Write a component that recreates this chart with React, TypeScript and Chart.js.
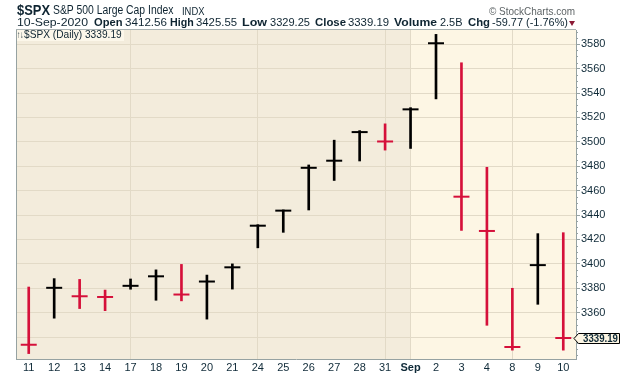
import React, { useEffect, useRef } from 'react';
import { Chart, registerables } from 'chart.js';

Chart.register(...registerables);

// ---- data ----
const labels = ['11', '12', '13', '14', '17', '18', '19', '20', '21', '24', '25', '26', '27', '28', '31', 'Sep', '2', '3', '4', '8', '9', '10'];
const highs = [3381.01, 3387.89, 3387.24, 3378.51, 3387.59, 3395.06, 3399.54, 3390.8, 3399.96, 3432.09, 3444.21, 3481.07, 3501.38, 3509.23, 3514.77, 3528.03, 3588.11, 3564.85, 3479.15, 3379.97, 3424.77, 3425.55];
const lows = [3326.44, 3355.46, 3363.35, 3361.64, 3379.22, 3370.15, 3369.66, 3354.69, 3379.31, 3413.13, 3425.84, 3444.15, 3468.35, 3484.32, 3493.25, 3494.6, 3535.23, 3427.41, 3349.63, 3329.27, 3366.84, 3329.25];
const closes = [3333.69, 3380.35, 3373.43, 3372.85, 3381.99, 3389.78, 3374.85, 3385.51, 3397.16, 3431.28, 3443.62, 3478.73, 3484.55, 3508.01, 3500.31, 3526.65, 3580.84, 3455.06, 3426.96, 3331.84, 3398.96, 3339.19];
const prevClose = 3360.47;
const gridDays = ['17', '24', '31', 'Sep', '8'];
const monthStart = 'Sep';
const yMin = 3322;
const yMax = 3591.7;
const yStep = 20;
const lastClose = '3339.19';

const headerDate = '10-Sep-2020';
const headerStats = [
  ['Open', '3412.56'],
  ['High', '3425.55'],
  ['Low', '3329.25'],
  ['Close', '3339.19'],
  ['Volume', '2.5B'],
  ['Chg', '-59.77 (-1.76%)'],
];

// ---- styles ----
const FAMILY = '"Liberation Sans", Arial, Helvetica, sans-serif';
const UP = '#000000';
const DOWN = '#D5103A';
const GRID = '#E2DAC7';
const AXIS = '#96A2A2';
const TICK = '#0F2A38';
const TEXT = '#0E2431';

const colors = closes.map((c, i) => (c < (i === 0 ? prevClose : closes[i - 1]) ? DOWN : UP));

let mctx: CanvasRenderingContext2D | null = null;
function measure(text: string, font: string) {
  if (!mctx) mctx = document.createElement('canvas').getContext('2d');
  mctx!.font = font;
  return mctx!.measureText(text).width;
}

function Txt(props: { text: string; x: number; base: number; w?: number; size: number; bold?: boolean; color?: string; bg?: string }) {
  const { text, x, base, w, size, bold, color } = props;
  const font = `${bold ? 'bold ' : ''}${size}px ${FAMILY}`;
  const mw = measure(text, font);
  const sx = w ? w / mw : 1;
  return (
    <div
      style={{
        position: 'absolute',
        left: x,
        top: base - 0.8465 * size,
        fontFamily: FAMILY,
        fontSize: size,
        fontWeight: bold ? 'bold' : 'normal',
        lineHeight: `${size}px`,
        whiteSpace: 'nowrap',
        color: color || TEXT,
        transform: `scaleX(${sx})`,
        transformOrigin: 'left top',
      }}
    >
      {text}
    </div>
  );
}

const statPos = [
  [94, 122.5, 125, 167],
  [170, 193.7, 196, 237],
  [242, 267, 270, 310],
  [315, 346, 348, 389],
  [394, 437, 439.5, 462],
  [468, 490, 492, 568],
];

export default function App() {
  const ref = useRef<HTMLCanvasElement>(null);

  useEffect(() => {
    document.body.style.margin = '0';
    const canvas = ref.current!;
    const splitIdx = labels.indexOf(monthStart);
    const gridIdx = gridDays.map((d) => labels.indexOf(d));

    const plugin = {
      id: 'stockDecor',
      beforeDraw(chart: any) {
        const { ctx, chartArea: a, scales } = chart;
        const split = scales.x.getPixelForValue(splitIdx);
        ctx.save();
        ctx.fillStyle = '#F3ECDC';
        ctx.fillRect(a.left, a.top, split - a.left, a.bottom - a.top);
        ctx.fillStyle = '#FDF6E4';
        ctx.fillRect(split, a.top, a.right - split, a.bottom - a.top);
        ctx.restore();
      },
      afterDraw(chart: any) {
        const { ctx, chartArea: a, scales } = chart;
        ctx.save();
        // left & top border
        ctx.strokeStyle = AXIS;
        ctx.lineWidth = 1;
        ctx.beginPath();
        ctx.moveTo(a.left + 0.5, a.top);
        ctx.lineTo(a.left + 0.5, a.bottom);
        ctx.stroke();
        ctx.strokeStyle = '#A9B2B2';
        ctx.beginPath();
        ctx.moveTo(a.left, a.top - 0.5);
        ctx.lineTo(a.right, a.top - 0.5);
        ctx.stroke();
        // minor ticks on y axis
        ctx.strokeStyle = AXIS;
        for (let v = Math.ceil(yMin / 5) * 5; v <= yMax; v += 5) {
          if (v % yStep === 0) continue;
          const y = Math.round(scales.y.getPixelForValue(v)) + 0.5;
          ctx.beginPath();
          ctx.moveTo(a.right, y);
          ctx.lineTo(a.right + 2, y);
          ctx.stroke();
        }
        // last price box
        const py = Math.round(scales.y.getPixelForValue(closes[closes.length - 1])) + 0.5;
        const bx = a.right + 2.5;
        ctx.beginPath();
        ctx.moveTo(a.right - 2, py);
        ctx.lineTo(bx, py - 5);
        ctx.lineTo(619.5, py - 5);
        ctx.lineTo(619.5, py + 5);
        ctx.lineTo(bx, py + 5);
        ctx.closePath();
        ctx.fillStyle = '#FDF6E4';
        ctx.fill();
        ctx.strokeStyle = '#000';
        ctx.stroke();
        ctx.font = `bold 11px ${FAMILY}`;
        const tw = ctx.measureText(lastClose).width;
        ctx.translate(583, py);
        ctx.scale(35 / tw, 1);
        ctx.fillStyle = TICK;
        ctx.textBaseline = 'middle';
        ctx.textAlign = 'left';
        ctx.fillText(lastClose, 0, 0.5);
        ctx.restore();
      },
    };

    const chart = new Chart(canvas, {
      type: 'bar',
      data: {
        labels,
        datasets: [
          {
            type: 'bar',
            data: lows.map((l, i) => [l, highs[i]]) as any,
            backgroundColor: colors,
            borderWidth: 0,
            barThickness: 2,
            order: 2,
          },
          {
            type: 'line',
            data: closes,
            showLine: false,
            pointStyle: 'line',
            pointRadius: 8,
            pointHoverRadius: 8,
            pointBorderWidth: 2,
            pointHoverBorderWidth: 2,
            borderColor: colors,
            pointBorderColor: colors,
            pointBackgroundColor: colors,
            order: 1,
          } as any,
        ],
      },
      options: {
        animation: false,
        responsive: false,
        maintainAspectRatio: false,
        events: [],
        layout: { padding: { left: 16, top: 30, right: 0, bottom: 0 } },
        plugins: { legend: { display: false }, tooltip: { enabled: false } },
        scales: {
          x: {
            type: 'category',
            offset: true,
            afterFit: (s: any) => {
              s.height = 17;
            },
            grid: {
              offset: false,
              drawTicks: false,
              color: (c: any) => (gridIdx.includes(c.index) ? GRID : 'rgba(0,0,0,0)'),
            },
            border: { color: AXIS },
            ticks: {
              autoSkip: false,
              maxRotation: 0,
              padding: 2,
              color: TICK,
              font: (c: any) => ({ family: FAMILY, size: 11, weight: c.tick && c.tick.label === monthStart ? 'bold' : 'normal' }),
            },
          },
          y: {
            position: 'right',
            min: yMin,
            max: yMax,
            afterFit: (s: any) => {
              s.width = 44;
            },
            grid: { color: GRID, tickColor: AXIS, tickLength: 4 },
            border: { color: AXIS },
            ticks: {
              stepSize: yStep,
              includeBounds: false,
              autoSkip: false,
              padding: 1,
              color: TICK,
              font: { family: FAMILY, size: 11 },
              callback: (v: any) => (Math.round(v) === 3340 ? '' : String(v)),
            },
          },
        } as any,
      },
      plugins: [plugin],
    });
    return () => chart.destroy();
  }, []);

  return (
    <div style={{ position: 'relative', width: 620, height: 376, background: '#fff', overflow: 'hidden' }}>
      <canvas ref={ref} width={620} height={376} style={{ position: 'absolute', left: 0, top: 0, width: 620, height: 376 }} />
      <Txt text="$SPX" x={16.6} base={15.5} w={33} size={15.5} bold />
      <Txt text="S&P 500 Large Cap Index" x={53.4} base={15} w={120.6} size={12.5} />
      <Txt text="INDX" x={181.8} base={15} w={22.5} size={10} />
      <Txt text="© StockCharts.com" x={489} base={15} w={86} size={10.5} color="#5E6466" />
      <Txt text={headerDate} x={16.6} base={26.5} w={71} size={11.5} />
      {headerStats.map(([k, v], i) => (
        <React.Fragment key={k}>
          <Txt text={k} x={statPos[i][0]} base={26.5} w={statPos[i][1] - statPos[i][0]} size={11} bold />
          <Txt text={v} x={statPos[i][2]} base={26.5} w={statPos[i][3] - statPos[i][2]} size={11} />
        </React.Fragment>
      ))}
      <div
        style={{
          position: 'absolute',
          left: 569,
          top: 21,
          width: 0,
          height: 0,
          borderLeft: '3.5px solid transparent',
          borderRight: '3.5px solid transparent',
          borderTop: '5px solid #8C1A36',
        }}
      />
      <div style={{ position: 'absolute', left: 17, top: 30, width: 107, height: 11, background: '#FCF7EA' }} />
      <Txt text="↑↓" x={17.3} base={38.8} w={6.5} size={10} />
      <Txt text={`$SPX (Daily) ${lastClose}`} x={24} base={38.8} w={97.7} size={11} />
    </div>
  );
}
